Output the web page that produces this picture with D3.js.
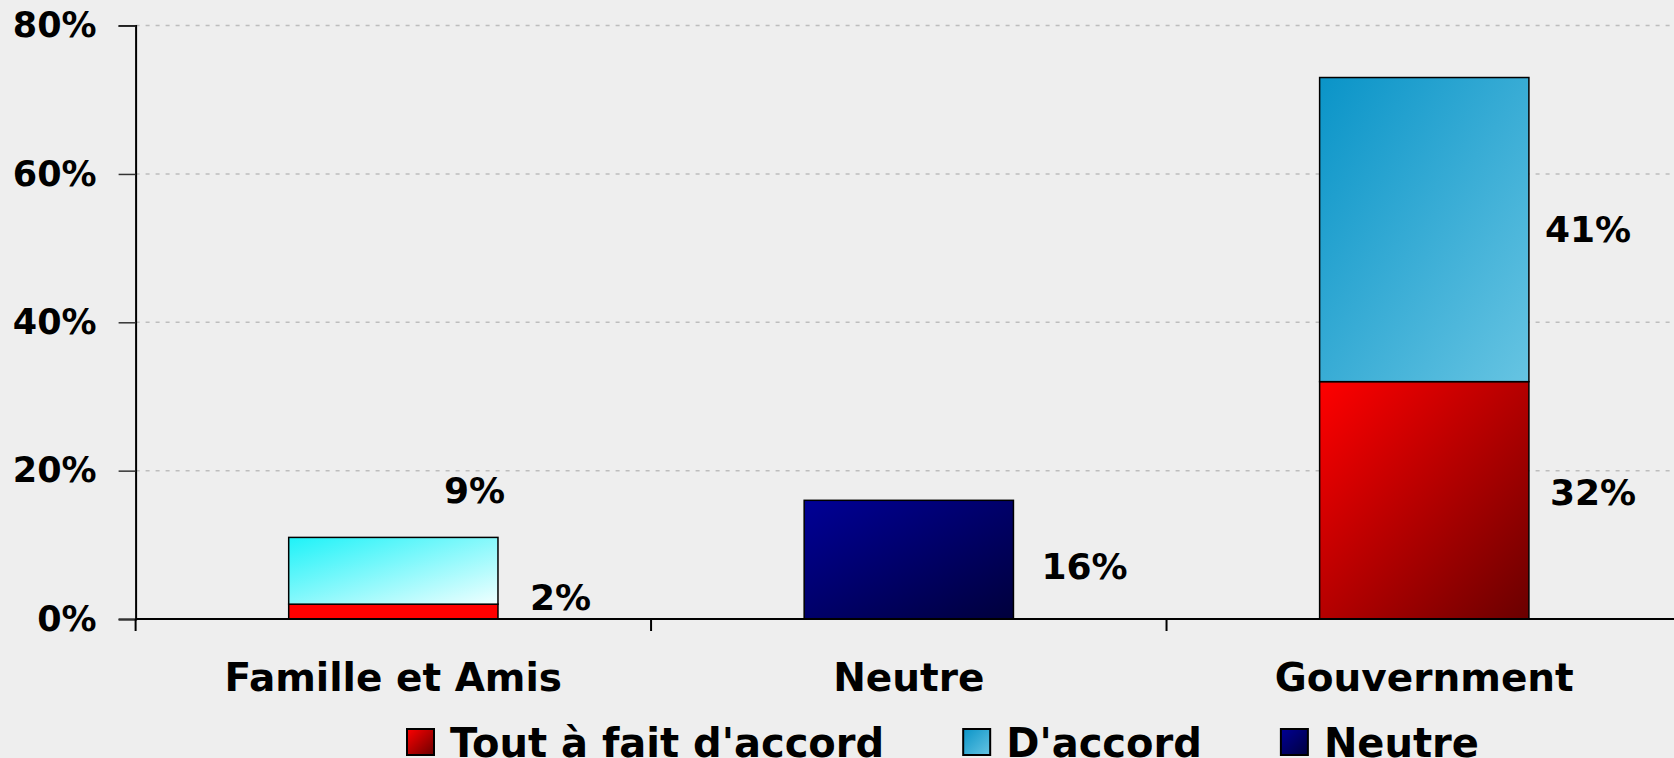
<!DOCTYPE html>
<html>
<head>
<meta charset="utf-8">
<script src="https://cdn.jsdelivr.net/npm/d3@7"></script>
<style>
    body { margin: 0; background: #eeeeee; }
    svg { display: block; font-family: "DejaVu Sans", Verdana, sans-serif; font-weight: bold; }
</style>
</head>
<body>
<svg id="chart" width="1674" height="758"></svg>
<script>
const categories = ["Famille et Amis", "Neutre", "Gouvernment"];
const seriesNames = ["Tout à fait d'accord", "D'accord", "Neutre"];
const toutAFait = [2, 0, 32];
const dAccord = [9, 0, 41];
const neutre = [0, 16, 0];
const yTicks = [0, 20, 40, 60, 80];

// label nudges [dx from bar right, dy from segment middle], per series then category
const labelNudge = [
    [[32, -14], null, [21, -8]],
    [[-54, -80], null, [16, 0]],
    [null, [28, 7], null]
];

const svg = d3.select("#chart");
const width = 1674, height = 758;

svg.append("rect").attr("width", width).attr("height", height).attr("fill", "#eeeeee");

const defs = svg.append("defs");
const makeGrad = (id, from, to) => {
    const g = defs.append("linearGradient").attr("id", id)
        .attr("x1", 0).attr("y1", 0).attr("x2", 1).attr("y2", 1);
    g.append("stop").attr("offset", "0%").attr("stop-color", from);
    g.append("stop").attr("offset", "100%").attr("stop-color", to);
}
makeGrad("gRed", "#ff0000", "#6a0000");
makeGrad("gBlue", "#0a94c8", "#66c4e2");
makeGrad("gCyan", "#1ef2f8", "#f0ffff");
makeGrad("gNavy", "#000096", "#00003c");

// fill per series; first bar of the stack uses its own look in the original
const seriesFill = ["url(#gRed)", "url(#gBlue)", "url(#gNavy)"];
const cellFill = (si, ci) => {
    if (ci === 0 && si === 0) return "#ff0000";
    if (ci === 0 && si === 1) return "url(#gCyan)";
    return seriesFill[si];
}

const x = d3.scaleBand().domain(categories).range([135.6, 1682]).paddingInner(0).paddingOuter(0);
const y = d3.scaleLinear().domain([0, 80]).range([619, 25.6]);
const barW = x.bandwidth() * 0.406;

// grid lines
svg.append("g").selectAll("line")
    .data(yTicks.filter(d => d > 0))
    .enter().append("line")
    .attr("x1", x.range()[0]).attr("x2", width)
    .attr("y1", d => y(d)).attr("y2", d => y(d))
    .attr("stroke", "#bdbdbd").attr("stroke-width", 1.5)
    .attr("stroke-dasharray", "4,6");

const table = categories.map((c, i) => ({ cat: c, s0: toutAFait[i], s1: dAccord[i], s2: neutre[i] }));
const stacked = d3.stack().keys(["s0", "s1", "s2"])(table);

stacked.forEach((layer, si) => {
    layer.forEach((d, ci) => {
        const v = d[1] - d[0];
        if (v <= 0) return;
        const bx = x(categories[ci]) + (x.bandwidth() - barW) / 2;
        svg.append("rect")
            .attr("x", bx).attr("y", y(d[1]))
            .attr("width", barW).attr("height", y(d[0]) - y(d[1]))
            .attr("fill", cellFill(si, ci))
            .attr("stroke", "#000").attr("stroke-width", 1.5);

        const nudge = labelNudge[si][ci] || [20, 0];
        svg.append("text")
            .attr("x", bx + barW + nudge[0])
            .attr("y", (y(d[0]) + y(d[1])) / 2 + nudge[1])
            .attr("dominant-baseline", "central")
            .attr("font-size", 36)
            .attr("fill", "#000")
            .text(v + "%");
    });
});

// y axis
const yAxis = svg.append("g").attr("transform", `translate(${x.range()[0]},0)`)
    .call(d3.axisLeft(y).tickValues(yTicks).tickFormat(d => d + "%").tickSize(17).tickPadding(22));
yAxis.select(".domain").attr("stroke", "#000").attr("stroke-width", 2);
yAxis.selectAll(".tick line").attr("stroke", "#333").attr("stroke-width", 1.5);
yAxis.selectAll("text").attr("font-size", 35).attr("font-family", "DejaVu Sans").attr("font-weight", "bold").attr("fill", "#000");

// x axis
svg.append("line")
    .attr("x1", x.range()[0]).attr("x2", width)
    .attr("y1", y(0)).attr("y2", y(0))
    .attr("stroke", "#000").attr("stroke-width", 2);
svg.append("g").selectAll("line")
    .data(categories)
    .enter().append("line")
    .attr("x1", d => x(d)).attr("x2", d => x(d))
    .attr("y1", y(0)).attr("y2", y(0) + 12)
    .attr("stroke", "#000").attr("stroke-width", 2);
svg.append("g").selectAll("text")
    .data(categories)
    .enter().append("text")
    .attr("x", d => x(d) + x.bandwidth() / 2)
    .attr("y", 677)
    .attr("text-anchor", "middle")
    .attr("dominant-baseline", "central")
    .attr("font-size", 39)
    .text(d => d);

// legend
const legendFill = ["url(#gRed)", "url(#gBlue)", "url(#gNavy)"];
let lx = 407;
seriesNames.forEach((name, i) => {
    svg.append("rect")
        .attr("x", lx).attr("y", 729).attr("width", 27).attr("height", 26)
        .attr("fill", legendFill[i]).attr("stroke", "#000").attr("stroke-width", 2);
    const t = svg.append("text")
        .attr("x", lx + 43).attr("y", 757)
        .attr("font-size", 40)
        .text(name);
    lx = lx + 43 + t.node().getComputedTextLength() + 79;
});
</script>
</body>
</html>
